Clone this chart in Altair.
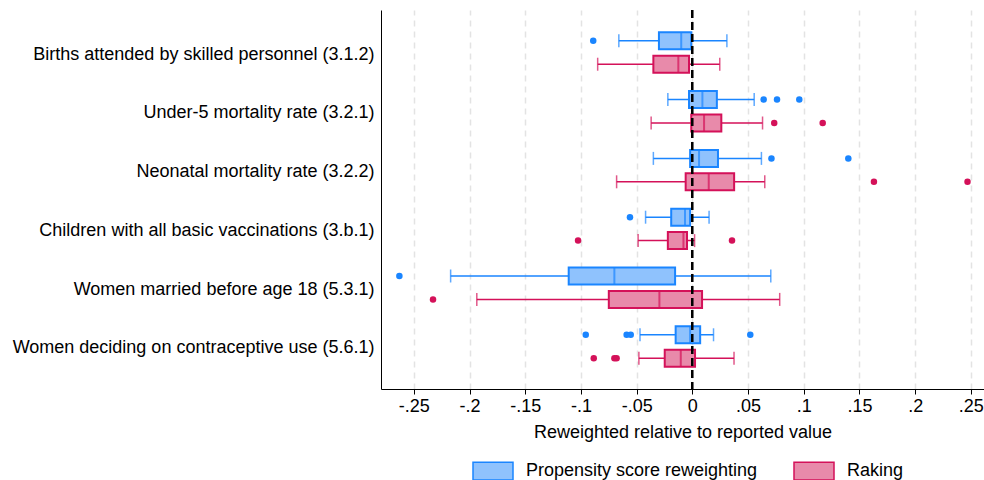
import altair as alt
import pandas as pd

categories = [
    "Births attended by skilled personnel (3.1.2)",
    "Under-5 mortality rate (3.2.1)",
    "Neonatal mortality rate (3.2.2)",
    "Children with all basic vaccinations (3.b.1)",
    "Women married before age 18 (5.3.1)",
    "Women deciding on contraceptive use (5.6.1)",
]
methods = ["Propensity score reweighting", "Raking"]

psw_lo = [-0.066, -0.022, -0.035, -0.042, -0.217, -0.047]
psw_q1 = [-0.030, -0.003, -0.002, -0.019, -0.111, -0.015]
psw_med = [-0.010, 0.009, 0.006, -0.0066, -0.070, -0.002]
psw_q3 = [-0.001, 0.022, 0.023, -0.002, -0.0155, 0.007]
psw_hi = [0.031, 0.0555, 0.062, 0.015, 0.0704, 0.019]
psw_out = [[-0.089], [0.064, 0.076, 0.096], [0.071, 0.140], [-0.056], [-0.263],
           [-0.0957, -0.059, -0.0553, 0.052]]

rak_lo = [-0.085, -0.037, -0.068, -0.0487, -0.1935, -0.048]
rak_q1 = [-0.035, -0.001, -0.006, -0.022, -0.075, -0.0248]
rak_med = [-0.0126, 0.0105, 0.0147, -0.008, -0.0296, -0.0104]
rak_q3 = [-0.003, 0.026, 0.0375, -0.0048, 0.0087, 0.0024]
rak_hi = [0.0246, 0.063, 0.065, 0.002, 0.0784, 0.0374]
rak_out = [[], [0.0735, 0.117], [0.163, 0.247], [-0.1026, 0.0356], [-0.2328],
           [-0.0885, -0.070, -0.068]]

x_ticks = [-0.25, -0.2, -0.15, -0.1, -0.05, 0, 0.05, 0.1, 0.15, 0.2, 0.25]

dark_colors = ["#1A85FF", "#D41159"]
light_colors = ["#8FC2FD", "#E88AAA"]

rows = []
out_rows = []
stats = {
    methods[0]: (psw_lo, psw_q1, psw_med, psw_q3, psw_hi, psw_out),
    methods[1]: (rak_lo, rak_q1, rak_med, rak_q3, rak_hi, rak_out),
}
for m, (lo, q1, med, q3, hi, outs) in stats.items():
    for i, c in enumerate(categories):
        rows.append(dict(category=c, method=m, lo=lo[i], q1=q1[i], med=med[i], q3=q3[i], hi=hi[i]))
        for v in outs[i]:
            out_rows.append(dict(category=c, method=m, value=v))

summary = pd.DataFrame(rows)
outliers = pd.DataFrame(out_rows)

FONT = "Liberation Sans"
FS = 18

xscale = alt.Scale(domain=[-0.2795, 0.2618], nice=False, zero=False)
yenc = alt.Y(
    "category:N",
    sort=categories,
    scale=alt.Scale(paddingInner=0, paddingOuter=0.223),
    axis=alt.Axis(title=None, ticks=False, labelFontSize=FS, labelFont=FONT, labelColor="black",
                  labelLimit=400, labelPadding=7, labelOffset=2, domainColor="black", domainWidth=1,
                  grid=False),
)
yoff = alt.YOffset("method:N", sort=methods, scale=alt.Scale(paddingInner=0, paddingOuter=0.256))
color_dark = (
    alt.when(alt.datum.method == methods[0])
    .then(alt.value(dark_colors[0]))
    .otherwise(alt.value(dark_colors[1]))
)

legend = alt.Legend(
    orient="none", legendX=91, legendY=440, direction="horizontal", title=None,
    symbolType="M-1,-0.44H1V0.44H-1Z", symbolSize=1600, symbolStrokeWidth=1.5,
    labelFontSize=FS, labelFont=FONT, labelColor="black", labelOffset=12, labelLimit=400,
    columnPadding=33, padding=0,
)

xaxis = alt.Axis(
    title="Reweighted relative to reported value", titleFontSize=FS, titleFont=FONT, titleColor="black",
    titleFontWeight="normal", titlePadding=8,
    values=x_ticks,
    labelExpr="(datum.value < 0 ? '-' : '') + replace(format(abs(datum.value), '.2~f'), '0.', '.')",
    labelFontSize=FS, labelFont=FONT, labelColor="black", labelPadding=3,
    tickSize=5, tickColor="black", domainColor="black", domainWidth=1,
    grid=True, gridDash=[6, 5], gridColor="#e3e3e3", gridWidth=1.5,
)

base = alt.Chart(summary)

whiskers = base.mark_rule(strokeWidth=1.5).encode(
    x=alt.X("lo:Q", scale=xscale, axis=xaxis), x2="hi:Q", y=yenc, yOffset=yoff, color=color_dark
)
cap_lo = base.mark_tick(size=13, thickness=1.5, orient="vertical").encode(
    x=alt.X("lo:Q", scale=xscale), y=yenc, yOffset=yoff, color=color_dark
)
cap_hi = base.mark_tick(size=13, thickness=1.5, orient="vertical").encode(
    x=alt.X("hi:Q", scale=xscale), y=yenc, yOffset=yoff, color=color_dark
)
boxes = base.mark_bar(size=17, strokeWidth=2).encode(
    x=alt.X("q1:Q", scale=xscale), x2="q3:Q", y=yenc, yOffset=yoff,
    fill=alt.Fill("method:N", sort=methods, scale=alt.Scale(domain=methods, range=light_colors), legend=legend),
    stroke=alt.Stroke("method:N", sort=methods, scale=alt.Scale(domain=methods, range=dark_colors), legend=legend),
)
medians = base.mark_tick(size=17, thickness=2, orient="vertical").encode(
    x=alt.X("med:Q", scale=xscale), y=yenc, yOffset=yoff, color=color_dark
)
points = alt.Chart(outliers).mark_circle(size=42, opacity=1).encode(
    x=alt.X("value:Q", scale=xscale), y=yenc, yOffset=yoff, color=color_dark
)
zero = alt.Chart(summary).mark_rule(strokeDash=[8, 4], strokeWidth=1.4, color="black").encode(
    x=alt.datum(0, scale=xscale)
)

chart = alt.layer(whiskers, cap_lo, cap_hi, boxes, medians, points, zero).properties(
    width=603, height=379,
    padding={"left": 381, "top": 10, "right": 0, "bottom": 91},
    autosize=alt.AutoSizeParams(type="none"),
    background="white",
).configure_view(stroke=None)

chart.save("out.html", embed_options={"renderer": "svg", "actions": False})
